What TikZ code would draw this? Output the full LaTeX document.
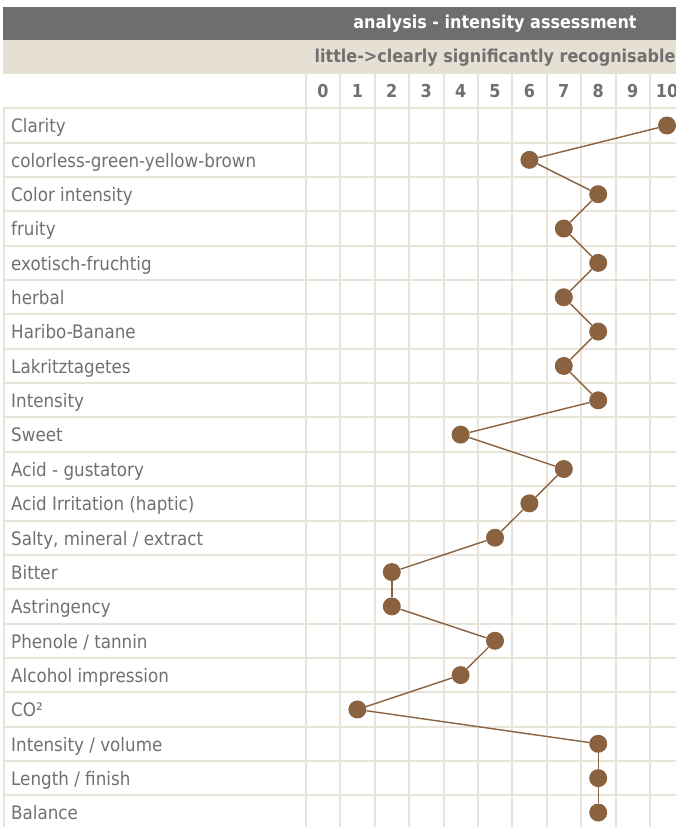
\documentclass[tikz,border=0pt]{standalone}
\usepackage{fontspec}
\setmainfont{DejaVu Sans}[FakeStretch=0.9]
\definecolor{headgrey}{HTML}{6E6E6E}
\definecolor{beige}{HTML}{E6E0D4}
\definecolor{gridline}{HTML}{E9E4DA}
\definecolor{textgrey}{HTML}{707070}
\definecolor{wine}{HTML}{8A623F}
\tikzset{
  label text/.style={anchor=base west, inner sep=0pt, text=textgrey, font=\fontsize{18.6}{20}\selectfont},
  head text/.style={anchor=base, inner sep=0pt, font=\bfseries\fontsize{17.8}{20}\selectfont},
  num text/.style={anchor=base, inner sep=0pt, text=textgrey, font=\bfseries\fontsize{17.8}{20}\selectfont},
  dot/.style={circle, fill=wine, inner sep=0pt, minimum size=18pt},
  grid line/.style={draw=gridline, line width=2pt},
  link/.style={draw=wine, line width=1.4pt}
}

\begin{document}
\begin{tikzpicture}[x=1pt, y=-1pt]
\useasboundingbox (0,0) rectangle (676,827);
\clip (0,0) rectangle (676,827);
% header bars
\fill[headgrey] (3,7) rectangle (690,40);
\fill[beige] (3,40) rectangle (690,74);
\node[head text, text=white] (title) at (495,28) {analysis - intensity assessment};
\node[head text, text=textgrey] (scale) at (495,62) {little->clearly significantly recognisable};
% grid
\foreach \i in {0,...,21}
  \draw[grid line] (3,{108.3+\i*34.35}) -- (690,{108.3+\i*34.35});
\foreach \j in {0,...,11}
  \draw[grid line] ({306+\j*34.4},74) -- ({306+\j*34.4},830);
\draw[grid line] (3.5,108.3) -- (3.5,830);
% scale numbers
\foreach \n in {0,...,10}
  \node[num text] (N\n) at ({323+\n*34.4},97) {\n};
% criteria
\foreach \t [count=\i] in {Clarity, colorless-green-yellow-brown, Color intensity, fruity,
  exotisch-fruchtig, herbal, Haribo-Banane, Lakritztagetes, Intensity, Sweet,
  Acid - gustatory, Acid Irritation (haptic), {Salty, mineral / extract}, Bitter,
  Astringency, Phenole / tannin, Alcohol impression, CO², Intensity / volume,
  Length / finish, Balance}
  \node[label text] (L\i) at (11,{132.8+(\i-1)*34.35}) {\t};
% points
\foreach \v [count=\i] in {10,6,8,7,8,7,8,7,8,4,7,6,5,2,2,5,4,1,8,8,8}
  \node[dot] (P\i) at ({323+\v*34.4},{125.5+(\i-1)*34.35}) {};
% edges
\foreach \i [evaluate=\i as \j using int(\i+1)] in {1,...,20}
  \draw[link] (P\i) -- (P\j);
\end{tikzpicture}
\end{document}
